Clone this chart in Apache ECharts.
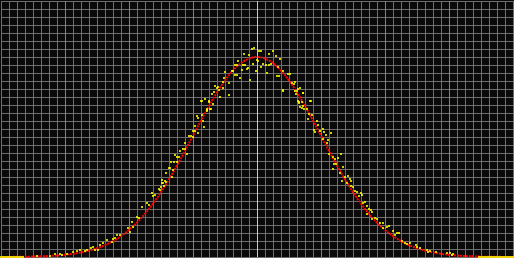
<!DOCTYPE html>
<html>
<head>
<meta charset="utf-8">
<script src="https://cdn.jsdelivr.net/npm/echarts@6/dist/echarts.min.js"></script>
<style>
html,body{margin:0;padding:0;background:#0a0a0a;}
#c{width:514px;height:258px;}
</style>
</head>
<body>
<div id="c"></div>
<script>
// Axis ranges / ticks
var xMin = 0, xMax = 512, xStep = 8;
var yMin = 0, yMax = 256, yStep = 8;
var majorX = [64, 128, 192, 320, 384, 448];
var centerX = 256;

// Smooth (red) curve: x positions and values
var curveX = [0,8,16,24,32,40,48,56,64,72,80,88,96,104,112,120,128,136,144,152,160,168,176,184,192,200,208,216,224,232,240,248,256,
  264,272,280,288,296,304,312,320,328,336,344,352,360,368,376,384,392,400,408,416,424,432,440,448,456,464,472,480,488,496,504,512];
var curveY = [0.1,0.1,0.2,0.3,0.4,0.7,1.0,1.5,2.2,3.2,4.6,6.4,8.8,11.9,15.9,20.9,27.1,34.5,43.3,53.4,64.9,77.7,91.6,106.2,121.3,136.4,151.0,164.5,176.5,186.4,193.8,198.4,200,
  198.4,193.8,186.4,176.5,164.5,151.0,136.4,121.3,106.2,91.6,77.7,64.9,53.4,43.3,34.5,27.1,20.9,15.9,11.9,8.8,6.4,4.6,3.2,2.2,1.5,1.0,0.7,0.4,0.3,0.2,0.1,0.1];

// Sample (yellow) points: x positions and values
var sampleX = [0,2,4,6,8,10,12,14,16,18,20,22,36,49,54,59,61,66,72,76,79,84,86,90,92,94,97,99,102,106,111,112,114,116,119,127,129,131,132,136,138,141,146,148,151,152,154,159,161,162,165,
  158,160,163,164,161,165,168,169,171,170,172,173,174,176,176,178,179,182,184,186,184,188,190,192,192,194,194,197,196,197,201,202,203,206,206,201,208,210,212,
  200,204,206,208,209,211,213,214,216,217,218,219,222,222,223,224,228,228,231,232,234,234,236,236,237,239,241,242,243,244,246,247,248,249,251,252,253,255,256,257,258,260,260,262,265,266,268,268,270,272,275,276,277,278,279,282,282,287,289,291,293,294,295,297,297,298,299,299,301,302,303,309,
  282,294,296,302,298,301,310,302,306,308,311,307,316,317,313,314,319,322,323,325,330,322,327,326,328,332,334,337,340,333,335,342,332,339,344,347,349,350,341,346,350,352,
  354,356,360,361,358,364,362,366,368,370,371,366,371,374,376,379,382,386,388,382,392,396,398,394,401,404,406,409,415,416,419,426,427,429,435,446,449,451,452,
  478,480,482,484,486,488,490,492,494,496,498,500,502,504,506,508,510,512];
var sampleY = [0,0,0,0,0,0,0,0,0,0,0,0,1,1,3,3,2,3,5,6,7,6,7,9,10,7,7,12,14,17,15,18,19,22,22,29,25,35,30,40,39,50,54,52,64,61,62,67,74,74,75,
  68,70,71,76,77,84,89,89,80,95,87,95,102,100,95,100,106,108,108,103,114,121,121,126,120,126,131,124,141,139,142,136,130,146,147,156,155,148,153,
  156,158,148,156,148,163,165,171,169,170,167,160,175,169,179,185,174,162,186,186,192,182,192,182,196,179,187,192,203,192,188,189,202,177,208,193,209,186,197,196,206,206,190,193,192,184,192,203,193,206,201,181,190,181,198,186,167,183,183,174,173,175,163,168,156,154,169,150,149,164,148,156,
  166,166,166,164,155,155,156,151,148,143,142,138,136,132,127,125,126,128,125,122,124,118,117,114,103,100,98,99,103,93,93,90,88,84,80,81,78,76,76,74,71,70,
  66,65,64,62,61,55,54,51,48,47,45,43,38,39,38,34,34,30,31,29,26,24,24,22,16,14,13,14,12,10,9,7,5,6,5,4,4,2,3,
  0,0,0,0,0,0,0,0,0,0,0,0,0,0,0,0,0,0];

var samples = sampleX.map(function (x, i) { return [x, sampleY[i]]; });
var curve = curveX.map(function (x, i) { return [x, curveY[i]]; });

// split line colours (style only)
var xLineColors = [];
for (var v = xMin; v <= xMax; v += xStep) {
  if (v === centerX) xLineColors.push('#c8c8c8');
  else if (majorX.indexOf(v) >= 0) xLineColors.push('#1ec81e');
  else xLineColors.push('#6e6e6e');
}

var chart = echarts.init(document.getElementById('c'), null, {renderer: 'canvas'});
chart.setOption({
  backgroundColor: '#0a0a0a',
  animation: false,
  grid: {left: 1, right: 1, top: 1, bottom: 1, containLabel: false},
  xAxis: {
    type: 'value', min: xMin, max: xMax, interval: xStep,
    axisLine: {show: false}, axisTick: {show: false}, axisLabel: {show: false},
    splitLine: {show: true, showMinLine: true, showMaxLine: true, lineStyle: {color: xLineColors, width: 1}}
  },
  yAxis: {
    type: 'value', min: yMin, max: yMax, interval: yStep,
    axisLine: {show: false}, axisTick: {show: false}, axisLabel: {show: false},
    splitLine: {show: true, showMinLine: true, showMaxLine: true, lineStyle: {color: '#6e6e6e', width: 1}}
  },
  series: [
    {
      type: 'line', data: curve, smooth: true, showSymbol: false, symbol: 'none',
      lineStyle: {color: '#ff0000', width: 2, type: [2, 1]}, z: 2
    },
    {
      type: 'scatter', data: samples, symbol: 'rect', symbolSize: 2,
      itemStyle: {color: '#ffff00'}, z: 3
    }
  ]
});
</script>
</body>
</html>
